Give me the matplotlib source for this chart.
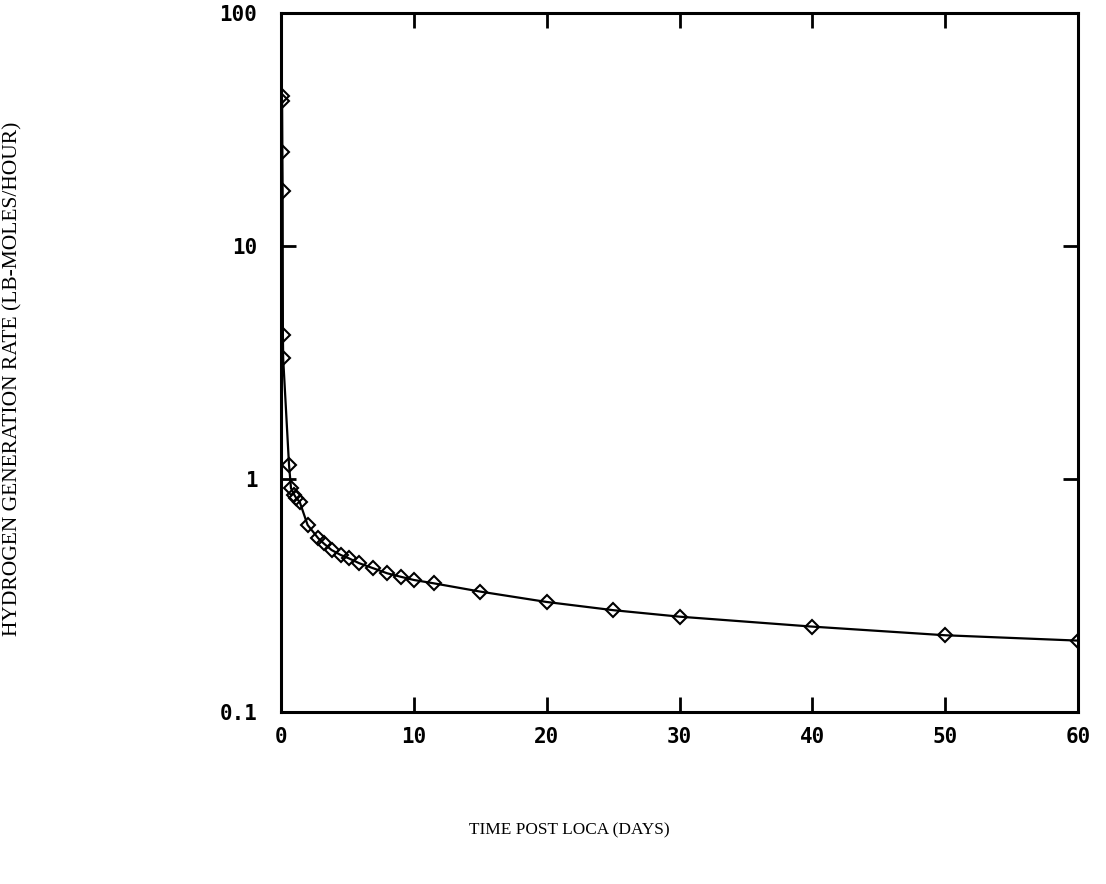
import matplotlib
matplotlib.use("Agg")
import matplotlib.pyplot as plt
from matplotlib.ticker import FixedLocator, FixedFormatter, NullLocator

# Hydrogen generation rate after a loss-of-coolant accident
days = [0.05, 0.08, 0.1, 0.12, 0.14, 0.16, 0.6, 0.75, 1.0, 1.15, 1.4, 2.0,
        2.8, 3.2, 3.8, 4.5, 5.1, 5.9, 6.9, 8.0, 9.0, 10.0, 11.5, 15.0,
        20.0, 25.0, 30.0, 40.0, 50.0, 60.0]
rate = [44.0, 42.0, 25.4, 17.3, 4.15, 3.30, 1.15, 0.912, 0.853, 0.826, 0.798, 0.634,
        0.556, 0.529, 0.495, 0.471, 0.456, 0.434, 0.414, 0.393, 0.380, 0.368, 0.356, 0.328,
        0.296, 0.273, 0.256, 0.232, 0.213, 0.202]

x_ticks = [0, 10, 20, 30, 40, 50, 60]
y_ticks = [0.1, 1, 10, 100]
y_tick_labels = ["0.1", "1", "10", "100"]

fig = plt.figure(figsize=(11.06, 8.84), dpi=100)
ax = fig.add_axes([0.2541, 0.1949, 0.7206, 0.7901])

ax.plot(days, rate, color="black", linewidth=1.6,
        marker="D", markersize=7.5, markerfacecolor="none",
        markeredgecolor="black", markeredgewidth=1.5, clip_on=True, zorder=3)

ax.set_yscale("log")
ax.set_xlim(0, 60)
ax.set_ylim(0.1, 100)

ax.xaxis.set_major_locator(FixedLocator(x_ticks))
ax.yaxis.set_major_locator(FixedLocator(y_ticks))
ax.yaxis.set_major_formatter(FixedFormatter(y_tick_labels))
ax.yaxis.set_minor_locator(NullLocator())
ax.xaxis.set_minor_locator(NullLocator())

ax.tick_params(axis="both", which="major", direction="in", length=11, width=2,
               top=True, right=True, colors="black")
ax.tick_params(axis="x", pad=11)
ax.tick_params(axis="y", pad=17)
for lab in ax.get_xticklabels() + ax.get_yticklabels():
    lab.set_fontfamily("DejaVu Sans Mono")
    lab.set_fontweight("bold")
    lab.set_fontsize(15)

for sp in ax.spines.values():
    sp.set_linewidth(2.2)
    sp.set_color("black")
    sp.set_zorder(4)

fig.text(0.515, 0.061, "TIME POST LOCA (DAYS)", ha="center", va="center",
         family="Liberation Serif", size=12.4, color="black")
fig.text(0.012, 0.572, "HYDROGEN GENERATION RATE (LB-MOLES/HOUR)", ha="center",
         va="center", rotation=90, family="Liberation Serif", size=15.5, color="black")

fig.savefig("out.png", dpi=100)
